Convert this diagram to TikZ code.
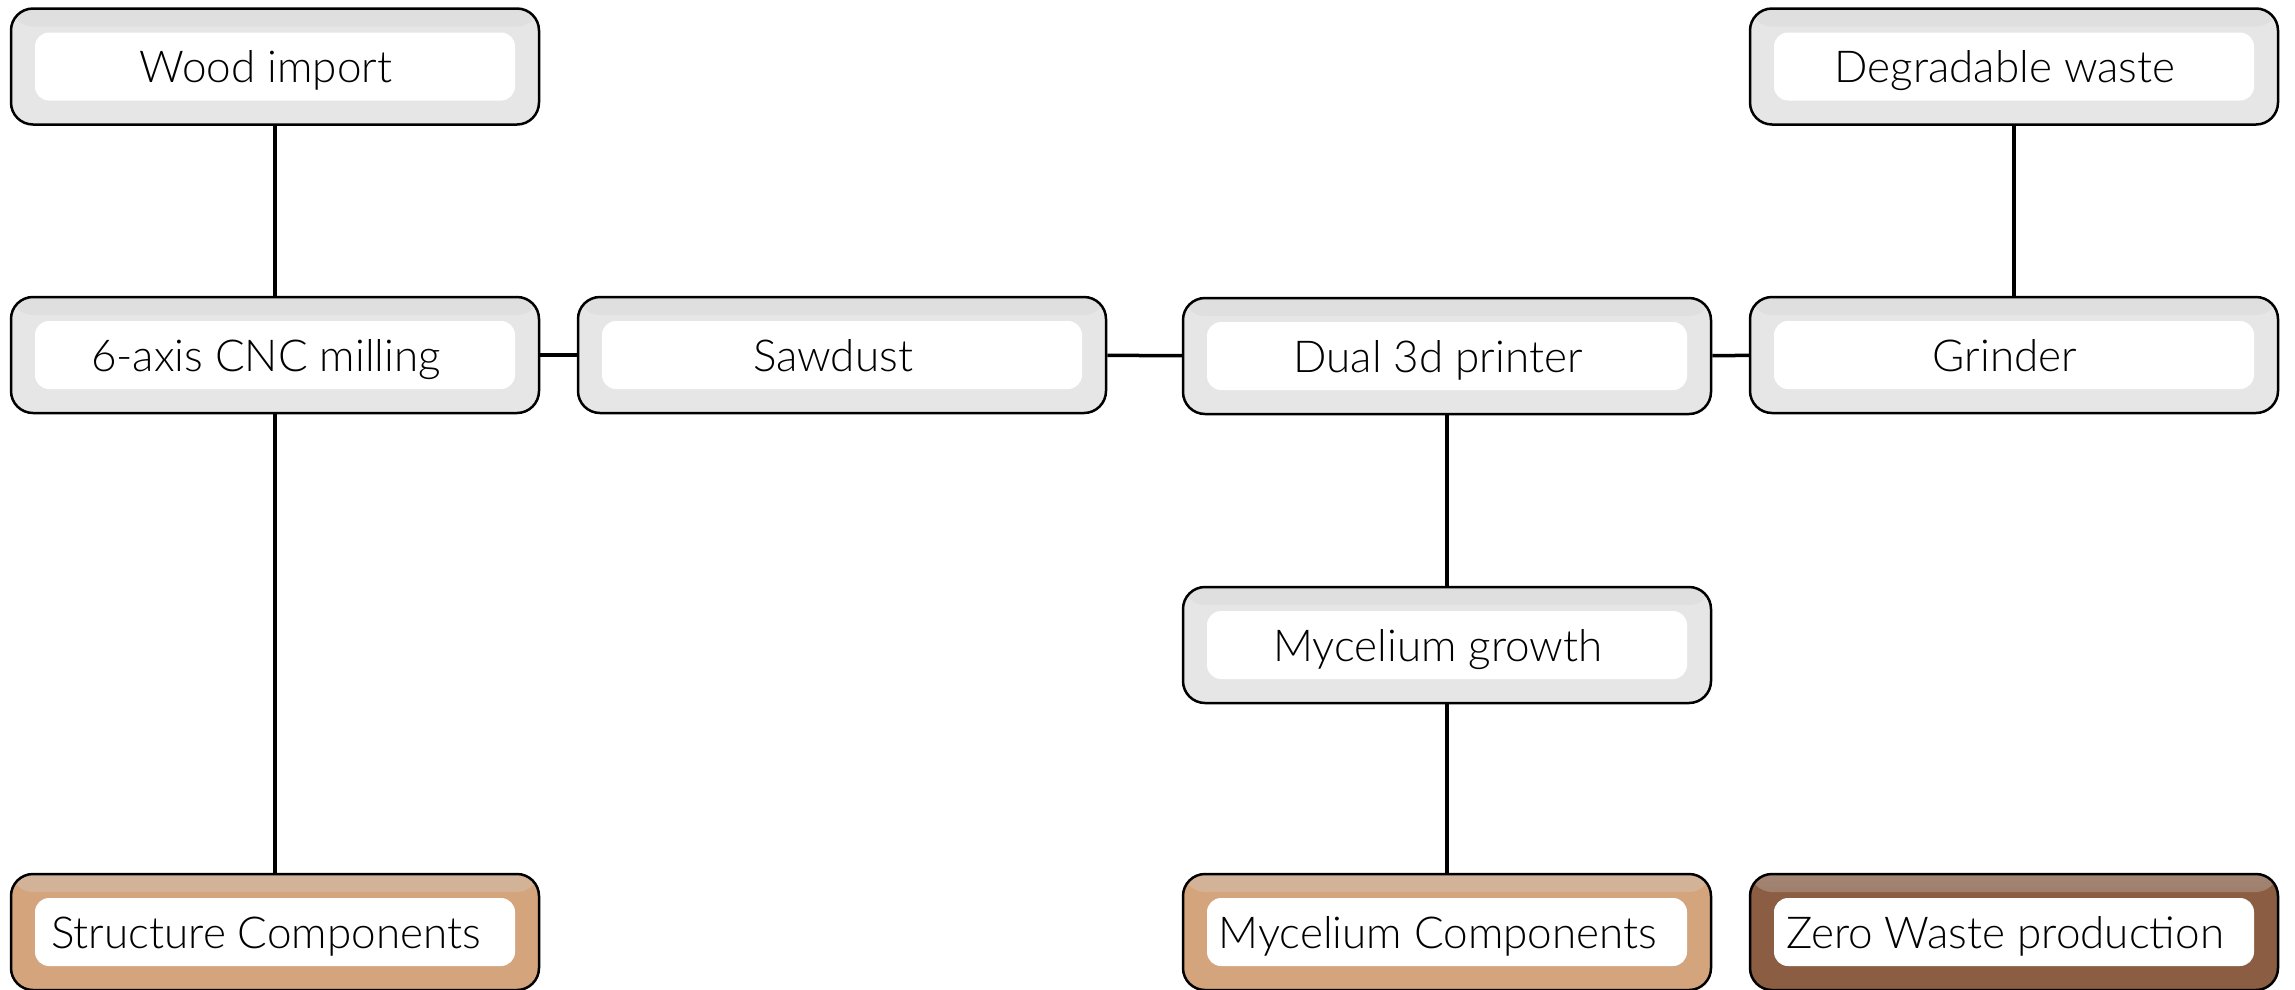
\documentclass[tikz,border=0pt]{standalone}
\usepackage{fontspec}
\setmainfont{Lato}[UprightFont=* Light]
\definecolor{boxgray}{HTML}{E6E6E6}
\definecolor{boxtan}{HTML}{D4A57D}
\definecolor{boxbrown}{HTML}{8B5D42}
\definecolor{topgray}{HTML}{D0D0D0}
\tikzset{
  box/.style={draw=black, line width=2.5pt, rounded corners=22pt,
    minimum width=528pt, minimum height=116pt, inner sep=0pt, fill=#1,
    font=\fontsize{44}{52}\selectfont,
    path picture={
      \shade[top color=#1!65!topgray, bottom color=#1]
        (path picture bounding box.north west) rectangle
        ([yshift=-18pt]path picture bounding box.north east);
      \fill[white, rounded corners=14pt]
        ([xshift=24pt,yshift=-24pt]path picture bounding box.north west) rectangle
        ([xshift=-24pt,yshift=24pt]path picture bounding box.south east);
    }},
  link/.style={draw=black, line width=3.5pt}
}
\newcommand{\lbl}[1]{\raisebox{-16pt}[0pt][0pt]{#1}\hspace*{18pt}}
\begin{document}
\begin{tikzpicture}[x=1pt,y=-1pt]
\useasboundingbox (0,0) rectangle (2295,989);
\node[box=boxgray] (wood) at (275,66.5) {\lbl{Wood import}};
\node[box=boxgray] (degr) at (2014,66.5) {\lbl{Degradable waste}};
\node[box=boxgray] (cnc) at (275,355) {\lbl{6-axis CNC milling}};
\node[box=boxgray] (saw) at (842,355) {\lbl{Sawdust}};
\node[box=boxgray] (dual) at (1447,356) {\lbl{Dual 3d printer}};
\node[box=boxgray] (grind) at (2014,355) {\lbl{Grinder}};
\node[box=boxgray] (growth) at (1447,645) {\lbl{Mycelium growth}};
\node[box=boxtan] (struct) at (275,932) {\lbl{Structure Components}};
\node[box=boxtan] (mycc) at (1447,932) {\lbl{Mycelium Components}};
\node[box=boxbrown] (zero) at (2014,932) {\lbl{Zero Waste production}};
\draw[link] (wood) -- (cnc);
\draw[link] (cnc) -- (struct);
\draw[link] (cnc) -- (saw);
\draw[link] (saw) -- (dual);
\draw[link] (dual) -- (grind);
\draw[link] (degr) -- (grind);
\draw[link] (dual) -- (growth);
\draw[link] (growth) -- (mycc);
\end{tikzpicture}
\end{document}
